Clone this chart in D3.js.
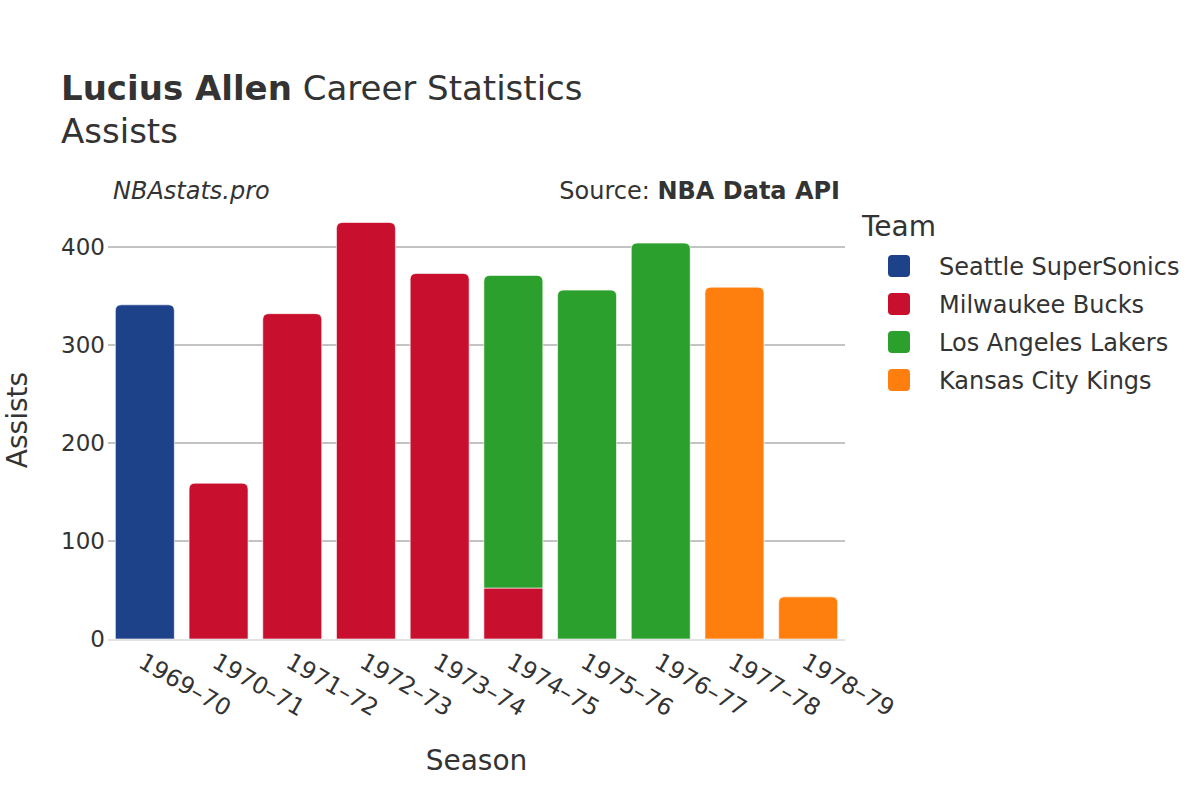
<!DOCTYPE html>
<html>
<head>
<meta charset="utf-8">
<script src="https://cdn.jsdelivr.net/npm/d3@7"></script>
<style>
  body { margin: 0; background: #fff; }
  text { font-family: "DejaVu Sans", Verdana, sans-serif; fill: #333; }
</style>
</head>
<body>
<div id="chart"></div>
<script>
// values
var seasons = ["1969\u201370", "1970\u201371", "1971\u201372", "1972\u201373", "1973\u201374",
               "1974\u201375", "1975\u201376", "1976\u201377", "1977\u201378", "1978\u201379"];
var teams = ["Seattle SuperSonics", "Milwaukee Bucks", "Los Angeles Lakers", "Kansas City Kings"];
var teamColors = ["#1d428a", "#c8102e", "#2ca02c", "#ff7f0e"];
var seattle   = [341, 0, 0, 0, 0, 0, 0, 0, 0, 0];
var milwaukee = [0, 159, 332, 425, 373, 52, 0, 0, 0, 0];
var lakers    = [0, 0, 0, 0, 0, 319, 356, 404, 0, 0];
var kansas    = [0, 0, 0, 0, 0, 0, 0, 0, 359, 43];
var yTicks = [0, 100, 200, 300, 400];

var width = 1200, height = 800;
var margin = {left: 108, right: 355, top: 205, bottom: 161};

var svg = d3.select("#chart").append("svg").attr("width", width).attr("height", height);

var x = d3.scaleBand().domain(seasons).range([margin.left, width - margin.right]).paddingInner(0.2).paddingOuter(0.1);
var y = d3.scaleLinear().domain([0, 440]).range([height - margin.bottom, height - margin.bottom - 0.98 * 440]);

// gridlines
svg.append("g").selectAll("line")
    .data(yTicks.filter(function(d) { return d > 0; }))
    .enter().append("line")
    .attr("x1", margin.left).attr("x2", width - margin.right)
    .attr("y1", function(d) { return y(d); }).attr("y2", function(d) { return y(d); })
    .attr("stroke", "#888").attr("stroke-width", 1);

// stack the team series
var rows = seasons.map(function(s, i) {
    return {season: s, t0: seattle[i], t1: milwaukee[i], t2: lakers[i], t3: kansas[i]};
});
var stack = d3.stack().keys(["t0", "t1", "t2", "t3"]);
var series = stack(rows);

function topIndex(row) {
    var k = -1;
    ["t0", "t1", "t2", "t3"].forEach(function(key, j) { if (row[key] > 0) k = j; });
    return k;
}

function barPath(x0, w, yTop, yBot, r) {
    if (r <= 0) return "M" + x0 + "," + yBot + "V" + yTop + "H" + (x0 + w) + "V" + yBot + "Z";
    r = Math.min(r, (yBot - yTop));
    return "M" + x0 + "," + yBot +
        "V" + (yTop + r) +
        "Q" + x0 + "," + yTop + " " + (x0 + r) + "," + yTop +
        "H" + (x0 + w - r) +
        "Q" + (x0 + w) + "," + yTop + " " + (x0 + w) + "," + (yTop + r) +
        "V" + yBot + "Z";
}

series.forEach(function(s, j) {
    svg.append("g").selectAll("path")
        .data(s.filter(function(d) { return d[1] - d[0] > 0; }))
        .enter().append("path")
        .attr("fill", teamColors[j])
        .attr("stroke", "#fff").attr("stroke-width", 0.6)
        .attr("d", function(d) {
            var isTop = topIndex(d.data) === j;
            return barPath(x(d.data.season), x.bandwidth(), y(d[1]), y(d[0]), isTop ? 6 : 0);
        });
});

// zero line
svg.append("line")
    .attr("x1", margin.left).attr("x2", width - margin.right)
    .attr("y1", y(0) + 1).attr("y2", y(0) + 1)
    .attr("stroke", "#e2e2e2").attr("stroke-width", 2);

// y axis labels
svg.append("g").selectAll("text")
    .data(yTicks).enter().append("text")
    .attr("x", margin.left - 3).attr("y", function(d) { return y(d); })
    .attr("dy", "0.36em")
    .attr("text-anchor", "end")
    .style("font-size", "23px")
    .text(function(d) { return d; });

// x axis labels
svg.append("g").selectAll("text")
    .data(seasons).enter().append("text")
    .attr("transform", function(d) {
        return "translate(" + (x(d) + x.bandwidth() / 2 + 1) + "," + (y(0) + 12) + ") rotate(30)";
    })
    .attr("dy", "0.75em")
    .attr("text-anchor", "start")
    .style("font-size", "23.5px")
    .text(function(d) { return d; });

// axis titles
svg.append("text")
    .attr("x", (margin.left + width - margin.right) / 2).attr("y", 770)
    .attr("text-anchor", "middle").style("font-size", "28px").text("Season");
svg.append("text")
    .attr("transform", "translate(27," + 420 + ") rotate(-90)")
    .attr("text-anchor", "middle").style("font-size", "28px").text("Assists");

// title
var title = svg.append("text").attr("x", 61).attr("y", 100).style("font-size", "34px");
title.append("tspan").style("font-weight", "bold").text("Lucius Allen");
title.append("tspan").text(" Career Statistics");
svg.append("text").attr("x", 61).attr("y", 143).style("font-size", "34px").text("Assists");

svg.append("text").attr("x", 113).attr("y", 199)
    .style("font-size", "24px").style("font-style", "italic").text("NBAstats.pro");
var src = svg.append("text").attr("x", 840).attr("y", 199)
    .attr("text-anchor", "end").style("font-size", "24px");
src.append("tspan").text("Source: ");
src.append("tspan").style("font-weight", "bold").text("NBA Data API");

// legend
svg.append("text").attr("x", 862).attr("y", 236).style("font-size", "28px").text("Team");
var leg = svg.append("g").selectAll("g")
    .data(teams).enter().append("g")
    .attr("transform", function(d, i) { return "translate(0," + (266 + i * 38) + ")"; });
leg.append("rect")
    .attr("x", 888).attr("y", -11).attr("width", 22).attr("height", 22)
    .attr("rx", 4)
    .attr("fill", function(d, i) { return teamColors[i]; });
leg.append("text")
    .attr("x", 939).attr("dy", "0.36em")
    .style("font-size", "24px")
    .text(function(d) { return d; });
</script>
</body>
</html>
